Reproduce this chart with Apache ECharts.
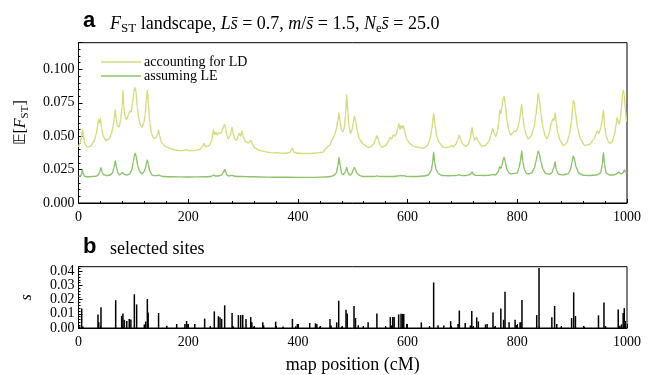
<!DOCTYPE html>
<html>
<head>
<meta charset="utf-8">
<script src="https://cdn.jsdelivr.net/npm/echarts@6/dist/echarts.min.js"></script>
<style>
html, body { margin: 0; padding: 0; background: #fff; }
#chart { width: 652px; height: 375px; }
</style>
</head>
<body>
<div id="chart"></div>
<script>
// F_ST landscape: [map position (cM), E[F_ST]]
const ldCurve = [
  [0, 0.042], [3, 0.045], [5.5, 0.050], [7.5, 0.0546], [9.5, 0.049], [12, 0.044], [16, 0.0418],
  [22, 0.0425], [28, 0.046], [32, 0.051], [35, 0.058], [36.5, 0.0625], [38, 0.060], [40, 0.0635],
  [42, 0.056], [45, 0.050], [50, 0.0468], [56, 0.048], [60, 0.052], [63.5, 0.058], [65.5, 0.065],
  [67, 0.0696], [68.5, 0.063], [71, 0.058], [74, 0.057], [77, 0.062], [79.5, 0.072], [81, 0.0845],
  [82.5, 0.073], [85, 0.064], [88, 0.0625], [91, 0.066], [94, 0.069], [96, 0.068], [98.5, 0.075],
  [101, 0.083], [103, 0.0865], [105, 0.083], [107, 0.072], [110, 0.063], [113, 0.058], [116, 0.0568],
  [119, 0.060], [121.5, 0.066], [123.5, 0.077], [125.5, 0.0845], [127.5, 0.074], [130, 0.060],
  [133, 0.052], [137, 0.0485], [141, 0.049], [144, 0.051], [146, 0.0546], [148, 0.050], [152, 0.045],
  [158, 0.0425], [166, 0.041], [175, 0.0398], [185, 0.0392], [194, 0.0395], [197, 0.040], [200, 0.0393],
  [210, 0.0392], [220, 0.040], [226, 0.042], [229, 0.0446], [232, 0.042], [238, 0.043], [243, 0.047],
  [246, 0.0546], [248.5, 0.051], [251, 0.053], [253, 0.051], [256, 0.0525], [259, 0.052], [262, 0.054],
  [264.5, 0.0575], [266.5, 0.0588], [268.5, 0.055], [271, 0.050], [273, 0.048], [276, 0.050],
  [278.5, 0.054], [280, 0.0566], [282, 0.052], [285, 0.048], [288, 0.047], [291, 0.050], [293, 0.052],
  [295.5, 0.050], [298, 0.054], [300, 0.050], [303, 0.047], [306, 0.0455], [310, 0.045], [312.5, 0.046],
  [314.5, 0.047], [317, 0.044], [322, 0.041], [331, 0.0392], [345, 0.038], [355, 0.0375], [360, 0.0376],
  [362, 0.0378], [365, 0.0374], [375, 0.0372], [385, 0.0377], [390, 0.041], [393, 0.038], [400, 0.0372],
  [420, 0.037], [435, 0.0375], [445, 0.038], [452, 0.041], [455, 0.0426], [458, 0.043], [462, 0.047],
  [466, 0.050], [470, 0.055], [473, 0.062], [475, 0.0676], [477, 0.060], [480, 0.054], [482, 0.0533],
  [484.5, 0.056], [487, 0.066], [489, 0.0813], [491, 0.068], [493, 0.058], [496, 0.052], [499, 0.055],
  [501, 0.060], [503, 0.065], [505, 0.062], [508, 0.054], [512, 0.048], [519, 0.044], [528, 0.0417],
  [533, 0.042], [538, 0.044], [541, 0.047], [544, 0.0504], [547, 0.047], [550, 0.043], [554, 0.0417],
  [560, 0.043], [565, 0.046], [568, 0.049], [571, 0.048], [574, 0.051], [577, 0.050], [580, 0.052],
  [582, 0.056], [584, 0.0596], [586, 0.055], [588, 0.058], [590, 0.056], [592, 0.058], [594.5, 0.054],
  [598, 0.048], [604, 0.0445], [610, 0.0426], [620, 0.0415], [629, 0.041], [636, 0.043], [641, 0.048],
  [644, 0.055], [647.5, 0.067], [650, 0.058], [653, 0.050], [658, 0.045], [665, 0.0417], [671, 0.0416],
  [676, 0.042], [680, 0.0431], [683, 0.042], [688, 0.044], [691, 0.047], [694, 0.0508], [697, 0.047],
  [701, 0.044], [706, 0.0425], [711, 0.044], [714, 0.048], [717.5, 0.0566], [720, 0.050], [722, 0.047],
  [724, 0.048], [726, 0.049], [729, 0.046], [735, 0.0425], [742, 0.043], [748, 0.046], [752, 0.051],
  [755, 0.0558], [758, 0.052], [761, 0.0498], [764, 0.054], [766, 0.060], [768, 0.0696], [770, 0.067],
  [772, 0.072], [774, 0.078], [776, 0.080], [778, 0.074], [781, 0.062], [785, 0.054], [788, 0.0508],
  [791, 0.052], [794, 0.054], [797, 0.0535], [800, 0.055], [803, 0.060], [806, 0.067], [808, 0.074],
  [810, 0.065], [813, 0.056], [817, 0.050], [820, 0.048], [825, 0.050], [830, 0.056], [834, 0.066],
  [836.5, 0.075], [838, 0.082], [840, 0.078], [843, 0.067], [847, 0.056], [851, 0.050], [854, 0.048],
  [858, 0.052], [862, 0.060], [865, 0.063], [867, 0.062], [869, 0.0676], [871, 0.060], [874, 0.052],
  [878, 0.047], [884, 0.043], [890, 0.045], [895, 0.051], [899, 0.062], [901, 0.073], [902, 0.0765],
  [904, 0.075], [906, 0.068], [910, 0.056], [915, 0.048], [923, 0.043], [932, 0.044], [940, 0.048],
  [944, 0.052], [946, 0.054], [949, 0.052], [952, 0.056], [955, 0.063], [957, 0.0696], [959, 0.058],
  [962, 0.050], [966, 0.046], [969, 0.0446], [973, 0.046], [977, 0.051], [980, 0.058], [982, 0.064],
  [984, 0.061], [986, 0.059], [988, 0.063], [990, 0.072], [992, 0.082], [993, 0.0845], [995, 0.081],
  [997, 0.070], [999, 0.0608]
]

const leCurve = [
  [0, 0.0197], [4, 0.0205], [6, 0.022], [7, 0.0247], [8.5, 0.0222], [11, 0.020], [16, 0.0196],
  [25, 0.0198], [32, 0.020], [36, 0.021], [39, 0.0235], [41, 0.0264], [43, 0.023], [46, 0.0212],
  [52, 0.0205], [58, 0.021], [62, 0.0225], [65, 0.027], [67, 0.0317], [69, 0.027], [72, 0.0225],
  [74, 0.0212], [77, 0.0215], [80, 0.0228], [83, 0.0215], [88, 0.021], [93, 0.0215], [97, 0.0245],
  [100, 0.031], [101.5, 0.035], [103, 0.0372], [105, 0.035], [108, 0.028], [111, 0.024], [115, 0.0218],
  [119, 0.023], [122, 0.026], [124, 0.030], [125.5, 0.0322], [127, 0.029], [130, 0.024], [134, 0.021],
  [138, 0.0205], [143, 0.0205], [146, 0.021], [148, 0.0205], [155, 0.0198], [170, 0.0196], [200, 0.0195],
  [230, 0.0196], [240, 0.0198], [245, 0.0205], [247, 0.021], [249, 0.0202], [255, 0.0202], [261, 0.021],
  [264, 0.0228], [266.5, 0.0252], [268.5, 0.023], [271, 0.0208], [275, 0.0202], [280, 0.0208],
  [283, 0.0202], [290, 0.0198], [300, 0.0198], [310, 0.0197], [330, 0.0195], [360, 0.0193],
  [400, 0.0192], [430, 0.0192], [450, 0.0195], [460, 0.0198], [466, 0.0208], [470, 0.0225], [473, 0.028],
  [475, 0.0342], [477, 0.028], [480, 0.022], [482, 0.0212], [485, 0.0222], [487, 0.024], [489, 0.0267],
  [491, 0.023], [494, 0.021], [496, 0.021], [499, 0.0225], [501, 0.025], [503, 0.0267], [505, 0.025],
  [508, 0.022], [513, 0.0205], [520, 0.0198], [535, 0.0198], [541, 0.0199], [544, 0.0203], [547, 0.0199],
  [560, 0.0198], [575, 0.0198], [582, 0.0202], [586, 0.0205], [590, 0.0203], [593, 0.0205], [598, 0.0199],
  [615, 0.0198], [630, 0.0202], [638, 0.021], [643, 0.024], [645.5, 0.030], [647.5, 0.038], [649.5, 0.030],
  [652, 0.025], [656, 0.022], [662, 0.0206], [675, 0.0204], [688, 0.0206], [691, 0.0208], [694, 0.0212],
  [697, 0.0207], [705, 0.0205], [713, 0.0212], [716, 0.022], [717.5, 0.0232], [719, 0.0218], [724, 0.0207],
  [740, 0.0206], [750, 0.0208], [755, 0.0213], [760, 0.021], [765, 0.0232], [768, 0.0272], [770, 0.026],
  [772, 0.028], [774, 0.032], [776, 0.0342], [778, 0.031], [781, 0.025], [785, 0.0225], [788, 0.0218],
  [795, 0.0222], [800, 0.0225], [803, 0.026], [806, 0.032], [808, 0.039], [810, 0.031], [813, 0.025],
  [817, 0.022], [820, 0.0218], [826, 0.0225], [831, 0.026], [834, 0.031], [836.5, 0.036], [838, 0.039],
  [840, 0.037], [843, 0.031], [847, 0.025], [852, 0.022], [858, 0.0215], [863, 0.0225], [866, 0.026],
  [869, 0.031], [871, 0.025], [875, 0.0215], [884, 0.021], [893, 0.022], [897, 0.025], [900, 0.031],
  [902, 0.0352], [904, 0.033], [907, 0.027], [912, 0.0225], [920, 0.0208], [930, 0.0206], [945, 0.021],
  [952, 0.0225], [955, 0.029], [957, 0.0379], [959, 0.029], [962, 0.0225], [968, 0.021], [975, 0.021],
  [980, 0.0215], [983, 0.0225], [985, 0.0232], [987, 0.0222], [990, 0.0218], [993, 0.023], [995, 0.0247],
  [997, 0.0235], [999, 0.0228]
]

// selected sites: position (cM) and selection coefficient s
const sitePos = [
  2, 5.8, 8, 35.5, 37, 41, 67.8, 78.7, 81, 83.6, 88, 92.5, 95.5, 101.8, 106, 120, 122.5, 125.5, 127,
  146, 161, 179, 194, 197, 199.5, 212, 230, 240, 247.6, 255, 258, 261, 266.5, 280, 282, 291.5, 295.7,
  299.4, 305.4, 314, 316, 319, 336, 337.5, 359.5, 373, 390, 396, 399, 421.5, 432, 434.5, 440, 458.5,
  460.5, 470.7, 474.4, 480, 487.7, 490, 502.3, 505, 510, 519, 528, 544, 560, 568.5, 570.5, 573, 575.5,
  583.7, 588, 590.5, 593, 598.5, 625, 640, 647.5, 655.5, 666, 678.5, 692, 694.3, 705, 714.5, 717, 719,
  726, 729, 742, 745, 755.7, 758, 770, 775, 777.6, 785, 796, 798, 805, 807, 808.5, 835.4, 839.6, 863,
  868, 872, 880, 899, 902.8, 906, 922, 948, 958, 961, 984, 987, 990, 993, 995, 997
]
const siteS = [
  0.0012, 0.0138, 0.001, 0.0096, 0.004, 0.0147, 0.0196, 0.0085, 0.0102, 0.0058, 0.0049, 0.0064, 0.006,
  0.0238, 0.0166, 0.0025, 0.0046, 0.0204, 0.011, 0.0106, 0.0015, 0.0028, 0.0028, 0.0049, 0.0028, 0.0028,
  0.0066, 0.001, 0.0117, 0.0083, 0.0076, 0.0064, 0.016, 0.0106, 0.0013, 0.0091, 0.0091, 0.0092, 0.0064,
  0.0077, 0.004, 0.001, 0.004, 0.0018, 0.0045, 0.001, 0.0064, 0.0012, 0.0028, 0.0035, 0.0033, 0.0028,
  0.001, 0.0064, 0.0018, 0.004, 0.0192, 0.001, 0.0128, 0.0102, 0.0155, 0.007, 0.002, 0.001, 0.004,
  0.0102, 0.001, 0.0077, 0.0018, 0.0077, 0.0077, 0.0096, 0.01, 0.01, 0.0098, 0.0028, 0.004, 0.0012,
  0.0321, 0.002, 0.0018, 0.0048, 0.0028, 0.0123, 0.0035, 0.0018, 0.012, 0.0008, 0.0075, 0.0046, 0.0025,
  0.0028, 0.011, 0.001, 0.0138, 0.0058, 0.0256, 0.004, 0.0058, 0.0022, 0.004, 0.004, 0.0198, 0.0091,
  0.0422, 0.0075, 0.0155, 0.0028, 0.001, 0.007, 0.0251, 0.0085, 0.001, 0.0089, 0.018, 0.0012, 0.013,
  0.0015, 0.0025, 0.0105, 0.014, 0.005
]

const xTicks = [0, 200, 400, 600, 800, 1000]
const fstTicks = [0, 0.025, 0.05, 0.075, 0.1]
const sTicks = [0, 0.01, 0.02, 0.03, 0.04]

const serif = 'Liberation Serif'
const color = ['#d6dc7c', '#8cc46a']

function xAxisCfg (gridIndex, showName) {
  return {
    type: 'value',
    gridIndex: gridIndex,
    min: xTicks[0],
    max: xTicks[xTicks.length - 1],
    interval: xTicks[1] - xTicks[0],
    name: showName ? 'map position (cM)' : '',
    nameLocation: 'middle',
    nameGap: 28,
    nameTextStyle: { fontFamily: serif, fontSize: 18, color: '#000' },
    axisLine: { show: true, lineStyle: { color: '#000', width: 1 } },
    axisTick: { show: true, inside: true, length: 4, lineStyle: { color: '#000' } },
    minorTick: { show: true, splitNumber: 5, length: 2, lineStyle: { color: '#000' } },
    axisLabel: { fontFamily: serif, fontSize: 14, color: '#000', margin: 7, formatter: v => String(v) },
    splitLine: { show: false }
  }
}

function yAxisCfg (gridIndex, ticks, digits, name, gap, extraMax) {
  return {
    type: 'value',
    gridIndex: gridIndex,
    min: 0,
    max: extraMax,
    interval: ticks[1] - ticks[0],
    name: name,
    nameLocation: 'middle',
    nameGap: gap,
    nameRotate: 90,
    nameTextStyle: {
      fontFamily: serif,
      fontSize: 16,
      color: '#000',
      rich: {
        i: { fontFamily: serif, fontStyle: 'italic', fontSize: 16, color: '#000' },
        sub: { fontFamily: serif, fontSize: 11, color: '#000', verticalAlign: 'bottom', padding: [8, 0, 0, 0] }
      }
    },
    axisLine: { show: true, lineStyle: { color: '#000', width: 1 } },
    axisTick: { show: true, inside: true, length: 4, lineStyle: { color: '#000' } },
    minorTick: { show: true, splitNumber: 5, length: 2, lineStyle: { color: '#000' } },
    axisLabel: {
      fontFamily: serif,
      fontSize: 14,
      color: '#000',
      margin: 4,
      showMaxLabel: false,
      formatter: v => v.toFixed(digits)
    },
    splitLine: { show: false }
  }
}

const option = {
  animation: false,
  backgroundColor: '#fff',
  color: color,
  title: [
    { text: 'a', left: 78, top: 5, textStyle: { fontFamily: 'Liberation Sans', fontWeight: 'bold', fontSize: 22, color: '#000' } },
    {
      text: '{i|F}{sub|ST} landscape, {i|Ls̄} = 0.7, {i|m}/{i|s̄} = 1.5, {i|N}{sub|e}{i|s̄} = 25.0',
      left: 105,
      top: 8,
      textStyle: {
        fontFamily: serif,
        fontSize: 18,
        fontWeight: 'normal',
        color: '#000',
        rich: {
          i: { fontFamily: serif, fontStyle: 'italic', fontSize: 18, color: '#000' },
          sub: { fontFamily: serif, fontSize: 13, color: '#000', verticalAlign: 'bottom', padding: [9, 0, 0, 0] }
        }
      }
    },
    { text: 'b', left: 78, top: 231, textStyle: { fontFamily: 'Liberation Sans', fontWeight: 'bold', fontSize: 22, color: '#000' } },
    { text: 'selected sites', left: 105, top: 235, textStyle: { fontFamily: serif, fontSize: 18, fontWeight: 'normal', color: '#000' } }
  ],
  legend: {
    orient: 'vertical',
    left: 101,
    top: 55,
    padding: 0,
    itemWidth: 40,
    itemHeight: 1.5,
    itemGap: 0,
    icon: 'rect',
    textStyle: { fontFamily: serif, fontSize: 14, color: '#000', lineHeight: 12.3, padding: [0, 0, 0, -2] },
    data: ['accounting for LD', 'assuming LE']
  },
  grid: [
    { left: 78.5, width: 548.5, top: 42.7, height: 160.3, show: true, borderColor: '#000', borderWidth: 1, backgroundColor: 'transparent' },
    { left: 78.5, width: 548.5, top: 266.7, height: 67.6, show: true, borderColor: '#000', borderWidth: 1, backgroundColor: 'transparent' }
  ],
  xAxis: [xAxisCfg(0, false), xAxisCfg(1, true)],
  yAxis: [
    yAxisCfg(0, fstTicks, 3, '𝔼[{i|F}{sub|ST}]', 48, 0.12),
    yAxisCfg(1, sTicks, 2, '{i|s}', 44, 0.0432)
  ],
  series: []
}

function genOption () {
  option.series = [
    {
      name: 'accounting for LD',
      type: 'line',
      xAxisIndex: 0,
      yAxisIndex: 0,
      showSymbol: false,
      smooth: 0.25,
      smoothMonotone: 'x',
      lineStyle: { color: color[0], width: 1.4 },
      itemStyle: { color: color[0] },
      data: ldCurve
    },
    {
      name: 'assuming LE',
      type: 'line',
      xAxisIndex: 0,
      yAxisIndex: 0,
      showSymbol: false,
      smooth: 0.25,
      smoothMonotone: 'x',
      lineStyle: { color: color[1], width: 1.4 },
      itemStyle: { color: color[1] },
      data: leCurve
    },
    {
      name: 'sites',
      type: 'bar',
      xAxisIndex: 1,
      yAxisIndex: 1,
      barWidth: 1.5,
      itemStyle: { color: '#000' },
      data: sitePos.map((p, i) => [p, siteS[i]])
    }
  ]
  return option
}

const chart = echarts.init(document.getElementById('chart'))
chart.setOption(genOption())
</script>
</body>
</html>
